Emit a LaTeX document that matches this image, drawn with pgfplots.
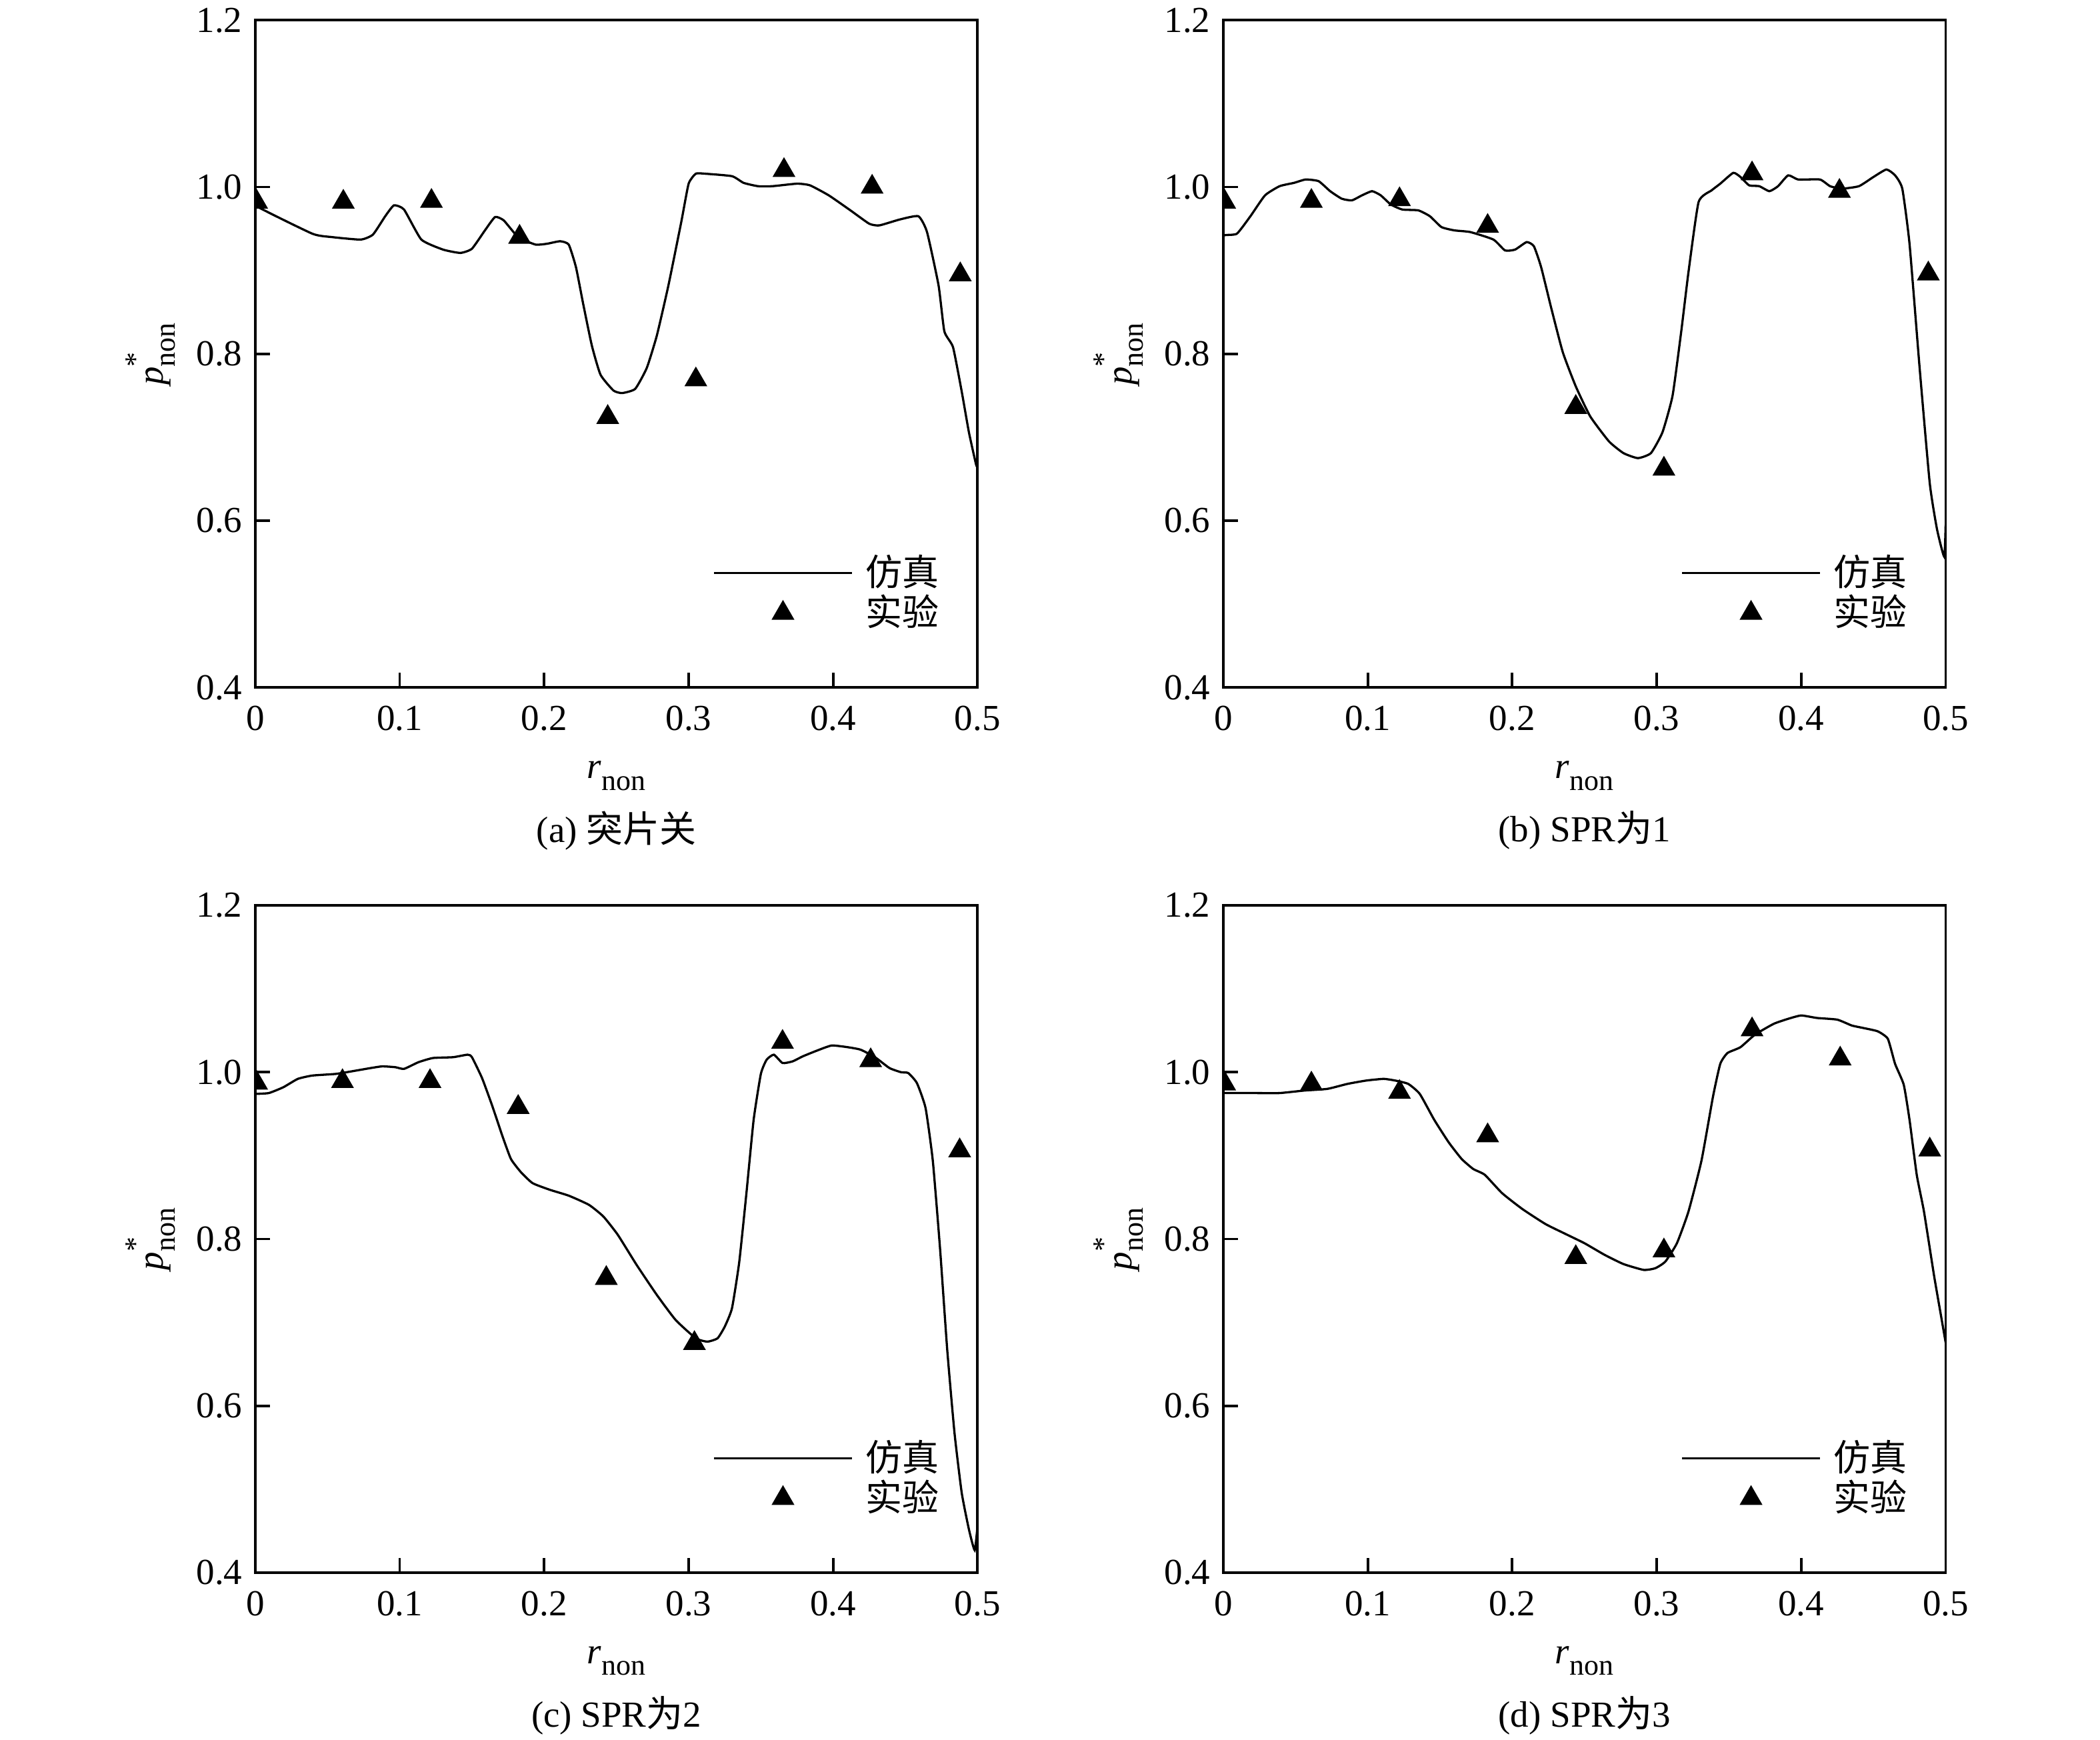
\documentclass[border=0pt]{standalone}
\usepackage{fontspec}
\setmainfont{Liberation Serif}
\newfontfamily\cjk{Noto Sans CJK SC}
\usepackage{pgfplots}
\pgfplotsset{compat=1.18}

\pgfplotsset{
 myax/.style={
  scale only axis, width=197pt, height=182pt,
  xmin=0, xmax=0.5, ymin=0.4, ymax=1.2,
  xtick={0,0.1,0.2,0.3,0.4,0.5},
  ytick={0.4,0.6,0.8,1.0,1.2},
  tick align=inside, xtick pos=bottom, ytick pos=left,
  major tick length=4pt,
  clip marker paths=true,
  axis line style={line width=0.7pt},
  every tick/.style={black, line width=0.7pt},
  /pgf/number format/assume math mode=true,
  yticklabel style={/pgf/number format/.cd, fixed, fixed zerofill, precision=1},
  xticklabel style={yshift=-1.5pt},
  xlabel={\textit{r}\raisebox{-0.7ex}{\footnotesize non}},
  ylabel={\textit{p}\rlap{\raisebox{1.1ex}{\footnotesize *}}\raisebox{-0.7ex}{\footnotesize non}},
  xlabel style={at={(axis description cs:0.5,-0.132)}, anchor=center},
  ylabel style={at={(axis description cs:-0.145,0.5)}, anchor=center},
  legend style={draw=none, fill=none, at={(0.973,0.222)}, anchor=north east, font=\cjk, row sep=-3pt, column sep=1.5pt},
  legend cell align=left,
 },
 sim/.style={black, line width=0.6pt, no marks, smooth, tension=0.3,
   legend image code/.code={\draw[##1] (0pt,0pt) -- (37.5pt,0pt);}},
 exp/.style={black, only marks, mark=triangle*, mark size=3.2pt,
   legend image code/.code={\draw[mark repeat=2,mark phase=2,##1] plot coordinates {(0pt,0pt)(18.75pt,0pt)(37.5pt,0pt)};}},
}

\begin{document}
\begin{tikzpicture}
\useasboundingbox (0,0) rectangle (572.7pt,-474.4pt);

% ---------------- (a)
\begin{axis}[myax, name=a, at={(69.6pt,-5.5pt)}, anchor=north west]
\addplot[sim] coordinates {
(0,0.985)(0.002,0.976)(0.0396,0.944)(0.053,0.940)(0.073,0.937)(0.0815,0.943)(0.090,0.965)
(0.096,0.978)(0.103,0.973)(0.115,0.937)(0.130,0.925)(0.142,0.921)(0.150,0.926)(0.159,0.948)
(0.166,0.964)(0.172,0.960)(0.182,0.940)(0.194,0.931)(0.202,0.932)(0.211,0.935)(0.217,0.931)
(0.222,0.904)(0.227,0.860)(0.233,0.810)(0.239,0.775)(0.248,0.756)(0.254,0.753)(0.263,0.758)
(0.271,0.783)(0.278,0.822)(0.286,0.882)(0.295,0.959)(0.300,1.004)(0.305,1.016)(0.311,1.016)
(0.330,1.013)(0.338,1.005)(0.348,1.001)(0.358,1.001)(0.375,1.004)(0.384,1.002)(0.397,0.990)
(0.412,0.972)(0.425,0.956)(0.432,0.954)(0.446,0.961)(0.459,0.965)(0.465,0.946)(0.473,0.882)
(0.477,0.827)(0.483,0.808)(0.489,0.755)(0.494,0.706)(0.499,0.667)(0.5,0.665)
};
\addlegendentry{仿真}
\addplot[exp] coordinates {
(0.001,0.982)(0.061,0.982)(0.122,0.983)(0.183,0.940)(0.244,0.724)(0.305,0.769)(0.366,1.020)(0.427,1.000)(0.488,0.895)
};
\addlegendentry{实验}
\end{axis}
\node at ([yshift=-39pt]a.south) {(a) {\cjk 突片关}};

% ---------------- (b)
\begin{axis}[myax, name=b, at={(333.6pt,-5.5pt)}, anchor=north west]
\addplot[sim] coordinates {
(0,0.932)(0.0005,0.942)(0.0094,0.944)(0.0188,0.965)(0.0289,0.990)(0.039,1.001)(0.049,1.005)
(0.057,1.009)(0.066,1.007)(0.074,0.995)(0.082,0.986)(0.089,0.984)(0.096,0.990)(0.103,0.995)
(0.109,0.990)(0.116,0.979)(0.124,0.973)(0.135,0.972)(0.143,0.965)(0.151,0.952)(0.160,0.948)
(0.171,0.946)(0.187,0.937)(0.195,0.924)(0.202,0.925)(0.210,0.934)(0.215,0.929)(0.220,0.904)
(0.227,0.855)(0.235,0.802)(0.244,0.761)(0.254,0.725)(0.267,0.695)(0.277,0.681)(0.287,0.675)
(0.296,0.681)(0.304,0.706)(0.311,0.750)(0.317,0.827)(0.322,0.898)(0.329,0.982)(0.338,0.996)
(0.344,1.004)(0.353,1.017)(0.358,1.012)(0.364,1.002)(0.371,1.001)(0.378,0.995)(0.384,1.001)
(0.391,1.014)(0.398,1.009)(0.413,1.009)(0.420,1.001)(0.428,0.998)(0.440,1.001)(0.450,1.012)
(0.459,1.021)(0.465,1.014)(0.470,0.998)(0.475,0.932)(0.482,0.783)(0.489,0.645)(0.494,0.590)
(0.499,0.557)(0.5,0.595)
};
\addlegendentry{仿真}
\addplot[exp] coordinates {
(0.001,0.982)(0.061,0.983)(0.122,0.985)(0.183,0.953)(0.244,0.736)(0.305,0.662)(0.366,1.016)(0.4265,0.995)(0.488,0.896)
};
\addlegendentry{实验}
\end{axis}
\node at ([yshift=-39pt]b.south) {(b) SPR{\cjk 为}1};

% ---------------- (c)
\begin{axis}[myax, name=c, at={(69.6pt,-246.9pt)}, anchor=north west]
\addplot[sim] coordinates {
(0,0.974)(0.0094,0.975)(0.0195,0.982)(0.0295,0.992)(0.0396,0.996)(0.056,0.998)(0.070,1.002)
(0.080,1.005)(0.088,1.007)(0.097,1.006)(0.103,1.004)(0.113,1.012)(0.123,1.017)(0.137,1.018)
(0.147,1.021)(0.150,1.018)(0.157,0.993)(0.164,0.960)(0.171,0.924)(0.177,0.896)(0.184,0.880)
(0.192,0.867)(0.204,0.859)(0.217,0.852)(0.231,0.841)(0.241,0.827)(0.251,0.805)(0.264,0.769)
(0.278,0.733)(0.291,0.703)(0.305,0.681)(0.313,0.677)(0.320,0.681)(0.325,0.695)(0.330,0.717)
(0.335,0.772)(0.340,0.855)(0.345,0.943)(0.350,0.998)(0.354,1.015)(0.359,1.021)(0.365,1.011)
(0.372,1.013)(0.379,1.019)(0.389,1.026)(0.399,1.032)(0.410,1.030)(0.419,1.027)(0.429,1.018)
(0.439,1.005)(0.447,1.000)(0.452,0.999)(0.458,0.987)(0.464,0.957)(0.469,0.894)(0.474,0.789)
(0.479,0.667)(0.484,0.568)(0.489,0.496)(0.494,0.452)(0.498,0.427)(0.5,0.457)
};
\addlegendentry{仿真}
\addplot[exp] coordinates {
(0.001,0.987)(0.0604,0.989)(0.121,0.989)(0.182,0.958)(0.243,0.753)(0.304,0.675)(0.365,1.036)(0.426,1.014)(0.4876,0.906)
};
\addlegendentry{实验}
\end{axis}
\node at ([yshift=-39pt]c.south) {(c) SPR{\cjk 为}2};

% ---------------- (d)
\begin{axis}[myax, name=d, at={(333.6pt,-246.9pt)}, anchor=north west]
\addplot[sim] coordinates {
(0,0.975)(0.022,0.975)(0.039,0.975)(0.056,0.978)(0.072,0.980)(0.086,0.986)(0.099,0.990)
(0.111,0.992)(0.119,0.990)(0.128,0.986)(0.136,0.974)(0.146,0.943)(0.156,0.916)(0.165,0.896)
(0.173,0.884)(0.181,0.877)(0.193,0.855)(0.207,0.836)(0.223,0.818)(0.237,0.806)(0.250,0.795)
(0.264,0.781)(0.277,0.770)(0.291,0.763)(0.299,0.765)(0.306,0.773)(0.314,0.795)(0.322,0.833)
(0.331,0.894)(0.339,0.971)(0.344,1.010)(0.349,1.023)(0.358,1.030)(0.368,1.045)(0.381,1.058)
(0.391,1.064)(0.400,1.068)(0.411,1.065)(0.425,1.063)(0.435,1.056)(0.443,1.053)(0.453,1.049)
(0.460,1.040)(0.465,1.010)(0.471,0.985)(0.475,0.943)(0.480,0.877)(0.485,0.833)(0.492,0.756)
(0.497,0.706)(0.5,0.676)
};
\addlegendentry{仿真}
\addplot[exp] coordinates {
(0.001,0.986)(0.061,0.986)(0.122,0.976)(0.183,0.924)(0.244,0.778)(0.305,0.786)(0.366,1.051)(0.427,1.016)(0.489,0.907)
};
\addlegendentry{实验}
\end{axis}
\node at ([yshift=-39pt]d.south) {(d) SPR{\cjk 为}3};
\end{tikzpicture}
\end{document}
